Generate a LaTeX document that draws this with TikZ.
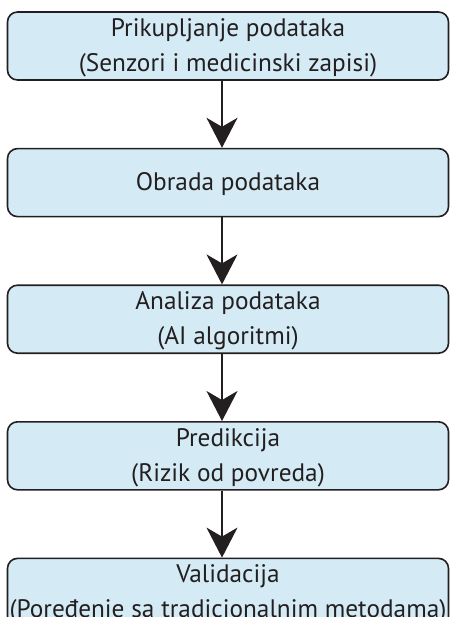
\documentclass[tikz,border=0pt]{standalone}
\usepackage{fontspec}
\setmainfont{PT Sans}
\usetikzlibrary{arrows.meta,positioning}
\definecolor{boxblue}{RGB}{212,235,245}
\definecolor{inkgray}{RGB}{35,31,32}

\begin{document}
\begin{tikzpicture}[x=1pt,y=1pt,
  stage/.style={draw=inkgray, line width=1.6pt, fill=boxblue, rounded corners=10pt,
    minimum width=441pt, minimum height=68pt, inner sep=0pt, align=center,
    text=inkgray, text depth=2pt, font=\fontsize{25.3}{35}\selectfont},
  flow/.style={draw=inkgray, line width=1.4pt, -{Stealth[length=30pt,width=31pt,inset=9pt]}}]
\useasboundingbox (0,0) rectangle (451,-617);

% Stages
\node[stage] (collect) at (228,-46) {Prikupljanje podataka\\(Senzori i medicinski zapisi)};
\node[stage, below=67pt of collect] (process) {Obrada podataka};
\node[stage, below=67pt of process] (analyse) {Analiza podataka\\(AI algoritmi)};
\node[stage, below=67pt of analyse] (predict) {Predikcija\\(Rizik od povreda)};
\node[stage, below=67pt of predict] (validate) {Validacija\\(Poređenje sa tradicionalnim metodama)};

% Arrows
\draw[flow] ([xshift=-6pt]collect.south) -- ([xshift=-6pt]process.north);
\draw[flow] ([xshift=-6pt]process.south) -- ([xshift=-6pt]analyse.north);
\draw[flow] ([xshift=-6pt]analyse.south) -- ([xshift=-6pt]predict.north);
\draw[flow] ([xshift=-6pt]predict.south) -- ([xshift=-6pt]validate.north);
\end{tikzpicture}
\end{document}
